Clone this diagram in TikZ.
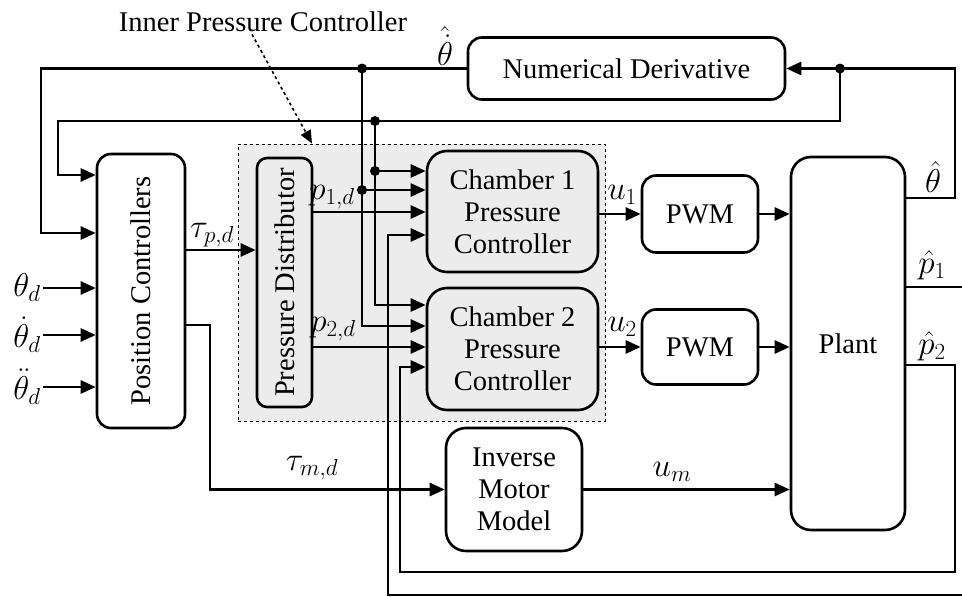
\RequirePackage{fix-cm}
\documentclass[tikz,border=0pt]{standalone}
\usepackage{fontspec}
\setmainfont{Liberation Serif}
\usetikzlibrary{arrows.meta}
\begin{document}
\begin{tikzpicture}[x=1pt,y=-1pt,
  font=\fontsize{28.5}{32}\selectfont,
  line width=2.6pt,
  arr/.style={-{Triangle[length=15pt,width=13pt]}},
  blk/.style={draw,rounded corners=14pt,align=center,inner sep=0pt},
  gblk/.style={blk,fill=gray!15},
  lbl/.style={inner sep=1pt},
  mlbl/.style={inner sep=1pt,font=\fontsize{33}{36}\selectfont},
  dot/.style={circle,fill,inner sep=0pt,minimum size=10pt}
]
\useasboundingbox (0,0) rectangle (962,597);
\clip (0,0) rectangle (962,597);
% inner pressure controller region
\node[draw,dashed,line width=0.9pt,fill=gray!15,minimum width=367pt,minimum height=277pt,inner sep=0pt] (ipc) at (421.5,282.5) {};
\node[lbl] (ipcl) at (263,22) {Inner Pressure Controller};
% blocks
\node[blk,minimum width=317pt,minimum height=62pt] (nd) at (626.5,68.5) {Numerical Derivative};
\node[blk,minimum width=88pt,minimum height=274pt] (pc) at (141,291) {\rotatebox{90}{Position Controllers}};
\node[blk,fill=gray!15,minimum width=55pt,minimum height=249pt,rounded corners=10pt] (pd) at (284.5,282.5) {\rotatebox{90}{Pressure Distributor}};
\node[gblk,minimum width=171pt,minimum height=121pt,rounded corners=20pt] (ch1) at (512.5,211.5) {Chamber 1\\Pressure\\Controller};
\node[gblk,minimum width=171pt,minimum height=122pt,rounded corners=20pt] (ch2) at (512.5,349) {Chamber 2\\Pressure\\Controller};
\node[blk,minimum width=116pt,minimum height=77pt] (pwm1) at (700,214) {PWM};
\node[blk,minimum width=116pt,minimum height=75pt] (pwm2) at (700,347) {PWM};
\node[blk,minimum width=136pt,minimum height=123pt,rounded corners=20pt] (imm) at (514,489.5) {Inverse\\Motor\\Model};
\node[blk,minimum width=114pt,minimum height=373pt,rounded corners=20pt] (pl) at (848,343.5) {Plant};
% coordinates
\coordinate (j1) at (362,68.5);
\coordinate (j2) at (375,121);
\coordinate (j3) at (840,68.5);
\coordinate (j4) at (362,190);
\coordinate (j5) at (375,171);
\coordinate (c121) at (840,121);
\coordinate (lf) at (41,233);
\coordinate (lf2) at (58,175);
\coordinate (rc) at (955,198);
\coordinate (tm) at (210,325);
\coordinate (f1a) at (975,287);
\coordinate (f1b) at (975,595);
\coordinate (f1c) at (388,235);
\coordinate (f2a) at (955,365);
\coordinate (f2b) at (955,572);
\coordinate (f2c) at (400,367);
% feedback theta-hat dot
\draw[arr] (nd.west) -| (lf) -- (lf -| pc.west);
\draw[arr] (rc -| pl.east) -- (rc) |- (nd.east);
\draw[arr] (j3) -- (c121) -| (lf2) -- (lf2 -| pc.west);
\draw[arr] (j1) |- (ch2.west |- 0,326);
\draw[arr] (j4) -- (j4 -| ch1.west);
\draw[arr] (j2) |- (ch2.west |- 0,305);
\draw[arr] (j5) -- (j5 -| ch1.west);
\node[dot] (d1) at (j1) {};
\node[dot] (d2) at (j2) {};
\node[dot] (d3) at (j3) {};
\node[dot] (d4) at (j4) {};
\node[dot] (d5) at (j5) {};
% pressure references
\draw[arr] (pd.east |- 0,212) -- (ch1.west |- 0,212);
\draw[arr] (pd.east |- 0,347) -- (ch2.west |- 0,347);
% pressure feedbacks
\draw[arr] (f1a -| pl.east) -- (f1a) -- (f1b) -| (f1c) -- (f1c -| ch1.west);
\draw[arr] (f2a -| pl.east) -- (f2a) -- (f2b) -| (f2c) -- (f2c -| ch2.west);
% actuation
\draw[arr] (ch1.east |- pwm1.west) -- (pwm1.west);
\draw[arr] (pwm1.east) -- (pwm1.east -| pl.west);
\draw[arr] (ch2.east |- pwm2.west) -- (pwm2.west);
\draw[arr] (pwm2.east) -- (pwm2.east -| pl.west);
\draw[arr] (pc.east |- 0,250) -- (pd.west |- 0,250);
\draw[arr] (tm -| pc.east) -- (tm) |- (imm.west);
\draw[arr] (imm.east) -- (imm.east -| pl.west);
% inputs
\node[mlbl,anchor=east] (td) at (43,288) {$\theta_d$};
\node[mlbl,anchor=east] (tdd) at (43,335) {$\dot\theta_d$};
\node[mlbl,anchor=east] (tddd) at (43,387) {$\ddot\theta_d$};
\draw[arr] (td.east) -- (td.east -| pc.west);
\draw[arr] (tdd.east) -- (tdd.east -| pc.west);
\draw[arr] (tddd.east) -- (tddd.east -| pc.west);
% labels
\node[mlbl] (ltp) at (212,235) {$\tau_{p,d}$};
\node[mlbl] (ltm) at (312,468) {$\tau_{m,d}$};
\node[mlbl] (lp1) at (332,197) {$p_{1,d}$};
\node[mlbl] (lp2) at (333,329) {$p_{2,d}$};
\node[mlbl] (lu1) at (622,195) {$u_1$};
\node[mlbl] (lu2) at (622,327) {$u_2$};
\node[mlbl] (lum) at (672,472) {$u_m$};
\node[mlbl] (lthd) at (445,46) {$\hat{\dot\theta}$};
\node[mlbl] (lth) at (933,177) {$\hat\theta$};
\node[mlbl] (lp1h) at (932,265) {$\hat p_1$};
\node[mlbl] (lp2h) at (932,346) {$\hat p_2$};
% dashed pointer
\draw[dashed,line width=1.6pt,-{Triangle[length=13pt,width=11pt]}] ([xshift=-11pt]ipcl.south) -- (ipc.north -| 312,0);
\end{tikzpicture}
\end{document}
